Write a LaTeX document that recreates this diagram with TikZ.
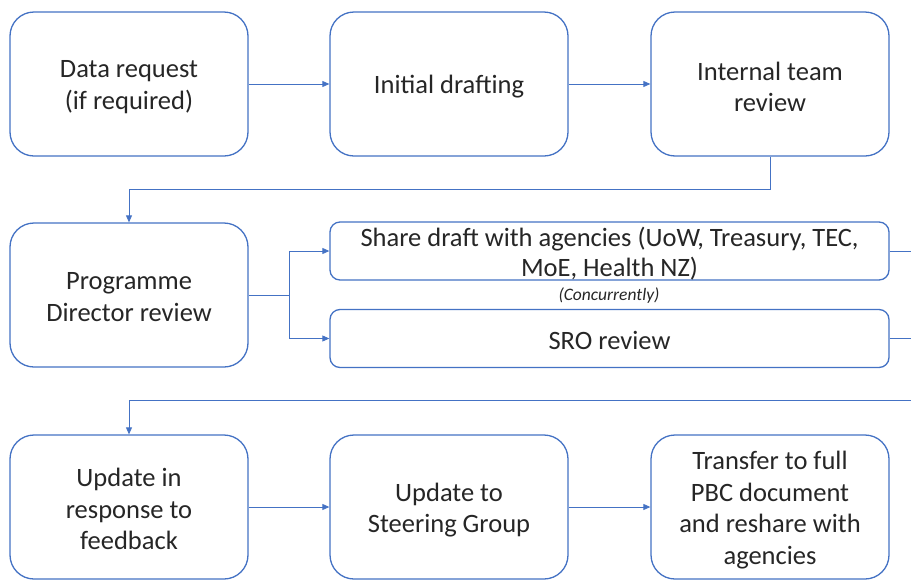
\documentclass[tikz,border=0pt]{standalone}
\usepackage{fontspec}
\setmainfont{Carlito}
\usetikzlibrary{arrows.meta}
\definecolor{edge}{HTML}{4472C4}
\tikzset{
  bigbox/.style={draw=edge, line width=1.3pt, rounded corners=24pt, fill=white,
    minimum width=238pt, minimum height=144pt, inner sep=0pt},
  widebox/.style={draw=edge, line width=1.3pt, rounded corners=10pt, fill=white,
    minimum width=559pt, minimum height=58pt, inner sep=0pt},
  caption/.style={align=center, text=black!85, font=\fontsize{26.5}{31.5}\selectfont},
  widecaption/.style={align=center, text=black!85, font=\fontsize{26.5}{30}\selectfont},
  note/.style={text=black!85, font=\fontsize{17.5}{20}\selectfont\itshape},
  link/.style={draw=edge, line width=0.8pt, -{Triangle[length=7pt,width=6pt]}},
  plain/.style={draw=edge, line width=0.8pt},
}
\begin{document}
\begin{tikzpicture}[x=1pt,y=-1pt]
\useasboundingbox (0,0) rectangle (911,579);
% first row
\node[bigbox] (b1) at (129,84) {};
\node[bigbox] (b2) at (449,84) {};
\node[bigbox] (b3) at (770,84) {};
\node[caption] (t1) at (129,87) {Data request\\(if required)};
\node[caption] (t2) at (449,87) {Initial drafting};
\node[caption] (t3) at (770,87) {Internal team\\review};
% second row
\node[bigbox] (b4) at (129,295) {};
\node[caption] (t4) at (129,297) {Programme\\Director review};
\node[widebox] (share) at (609.5,251) {};
\node[widecaption] (t5) at (609.5,254) {Share draft with agencies (UoW, Treasury, TEC,\\MoE, Health NZ)};
\node[widebox] (sro) at (609.5,338.5) {};
\node[widecaption] (t6) at (609.5,340) {SRO review};
\node[note] (conc) at (609,296) {(Concurrently)};
% third row
\node[bigbox] (b7) at (129,507) {};
\node[bigbox] (b8) at (449,507) {};
\node[bigbox] (b9) at (770,507) {};
\node[caption] (t7) at (129,509) {Update in\\response to\\feedback};
\node[caption] (t8) at (449,510) {Update to\\Steering Group};
\node[caption] (t9) at (770,510) {Transfer to full\\PBC document\\and reshare with\\agencies};
% free ends at the right edge
\coordinate (outA) at (911,251);
\coordinate (outB) at (911,338.5);
\coordinate (back) at (911,400);
\coordinate (fork) at (289,295);
% connectors
\draw[link] (b1.east) -- (b2.west);
\draw[link] (b2.east) -- (b3.west);
\draw[link] (b3.south) -- ++(0,33) -| (b4.north);
\draw[plain] (b4.east) -- (fork);
\draw[link] (fork) |- (share.west);
\draw[link] (fork) |- (sro.west);
\draw[plain] (share.east) -- (outA);
\draw[plain] (sro.east) -- (outB);
\draw[link] (back) -| (b7.north);
\draw[link] (b7.east) -- (b8.west);
\draw[link] (b8.east) -- (b9.west);
\end{tikzpicture}
\end{document}
